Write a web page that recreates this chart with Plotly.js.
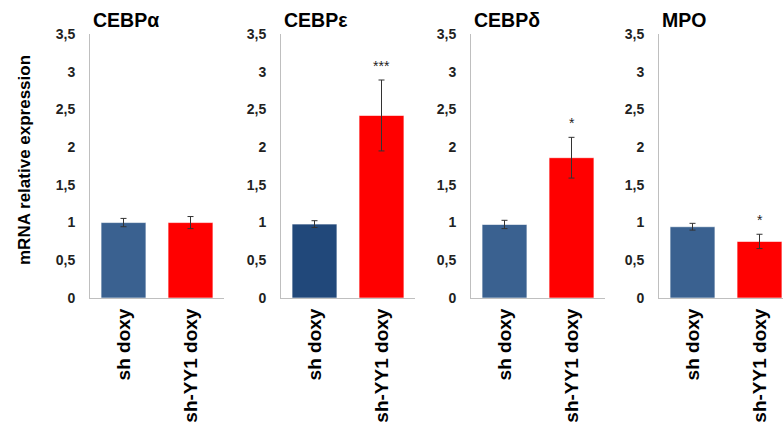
<!DOCTYPE html>
<html><head><meta charset="utf-8">
<script src="https://cdn.plot.ly/plotly-3.0.1.min.js"></script>
<style>html,body{margin:0;padding:0;background:#fff}#c{width:783px;height:431px}</style>
</head><body><div id="c"></div>
<script>
const panels = ["CEBPα", "CEBPε", "CEBPδ", "MPO"];
const categories = ["sh doxy", "sh-YY1 doxy"];
const shValues = [1.00, 0.98, 0.975, 0.945];
const shErrors = [0.055, 0.045, 0.055, 0.045];
const yy1Values = [1.00, 2.42, 1.86, 0.75];
const yy1Errors = [0.08, 0.47, 0.27, 0.095];
const sigLabels = ["", "***", "*", "*"];
const yTickVals = [0, 0.5, 1, 1.5, 2, 2.5, 3, 3.5];
const yTickText = ["0", "0,5", "1", "1,5", "2", "2,5", "3", "3,5"];

const W = 783, H = 431;
const axisX = [90, 281, 471, 659];
const panelW = 134;
const shColors = ["#3A6190", "#21487A", "#3A6190", "#3A6190"];
const yDom = [(H - 298) / H, (H - 34) / H];
const FONT = "Liberation Sans, Arial, sans-serif";

const data = [], annotations = [];
const layout = {
  width: W, height: H, margin: {l: 0, r: 0, t: 0, b: 0},
  paper_bgcolor: "#fff", plot_bgcolor: "rgba(0,0,0,0)",
  showlegend: false, bargap: 0.33, annotations: annotations
};

panels.forEach((p, i) => {
  const s = i === 0 ? "" : String(i + 1);
  const x0 = axisX[i];
  const x1 = Math.min(W, x0 + panelW);
  const rangeEnd = -0.5 + 2 * (x1 - x0) / panelW;
  data.push({
    type: "bar", x: categories, y: [shValues[i], yy1Values[i]],
    xaxis: "x" + s, yaxis: "y" + s,
    marker: {color: [shColors[i], "#FF0000"], line: {color: "rgba(255,255,255,0.6)", width: 1}},
    error_y: {type: "data", array: [shErrors[i], yy1Errors[i]], color: "#333", thickness: 1, width: 3},
    hoverinfo: "skip"
  });
  layout["xaxis" + s] = {
    domain: [x0 / W, x1 / W], anchor: "y" + s, type: "category",
    range: [-0.5, rangeEnd], showline: true, linecolor: "#BFBFBF", linewidth: 1,
    ticks: "", showgrid: false, zeroline: false, tickangle: -90, ticklabelstandoff: 2,
    tickfont: {family: FONT, size: 19, color: "#000", weight: "bold"}
  };
  layout["yaxis" + s] = {
    domain: yDom, anchor: "x" + s, range: [0, 3.5],
    tickvals: yTickVals, ticktext: yTickText,
    showline: true, linecolor: "#BFBFBF", linewidth: 1, ticks: "",
    showgrid: false, zeroline: false, ticklabelstandoff: 11,
    tickfont: {family: FONT, size: 14, color: "#222", weight: "bold"}
  };
  annotations.push({
    xref: "paper", yref: "paper", x: (x0 + 1) / W, y: (H - 20) / H,
    xanchor: "left", yanchor: "middle", showarrow: false, text: p,
    font: {family: FONT, size: 19.5, color: "#000", weight: "bold"}
  });
  if (sigLabels[i]) {
    annotations.push({
      xref: "x" + s, yref: "y" + s, x: categories[1], y: yy1Values[i] + yy1Errors[i],
      yanchor: "bottom", yshift: 4, showarrow: false, text: sigLabels[i],
      font: {family: FONT, size: 14, color: "#222"}
    });
  }
});

annotations.push({
  xref: "paper", yref: "paper", x: 24 / W, y: (H - 160) / H,
  xanchor: "center", yanchor: "middle", showarrow: false, textangle: -90,
  text: "mRNA relative expression",
  font: {family: FONT, size: 17, color: "#000", weight: "bold"}
});

Plotly.newPlot("c", data, layout, {staticPlot: true, displayModeBar: false});
</script></body></html>
